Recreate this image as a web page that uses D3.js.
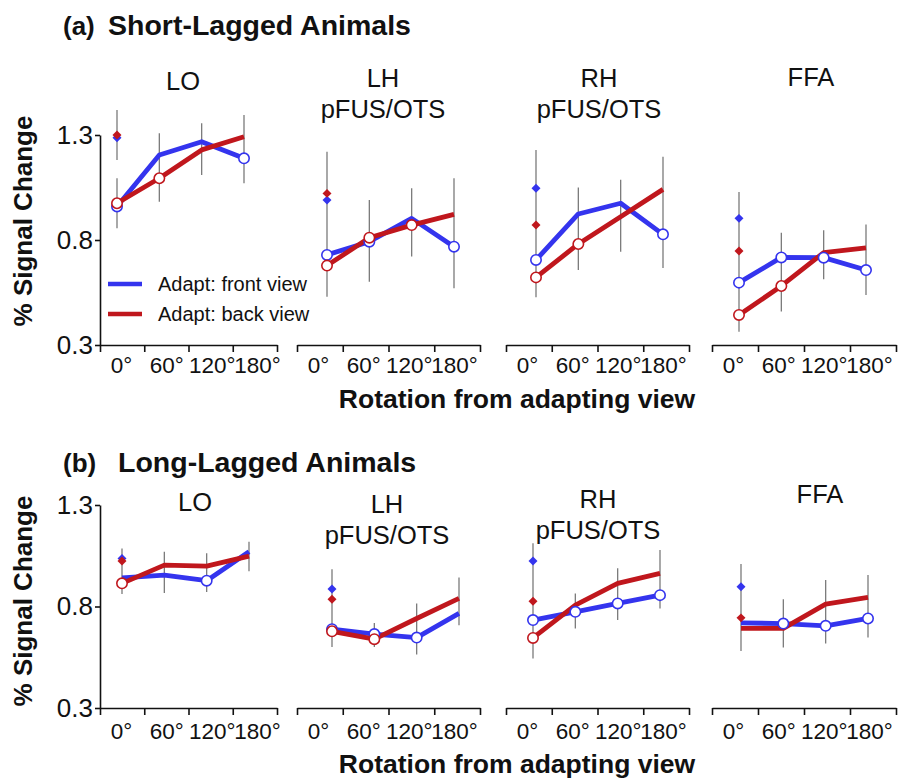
<!DOCTYPE html>
<html>
<head>
<meta charset="utf-8">
<script src="https://cdn.jsdelivr.net/npm/d3@7"></script>
<style>
  body { margin: 0; background: #fff; }
  svg text { font-family: "Liberation Sans", Arial, Helvetica, sans-serif; fill: #111; }
  .domain, .tick line { stroke: #111; stroke-width: 1.6; }
</style>
</head>
<body>
<div id="chart"></div>
<script>
// --- data ---
const angles = [0, 60, 120, 180];
const angleLabels = ["0°", "60°", "120°", "180°"];
const regionTitles = [["LO"], ["LH", "pFUS/OTS"], ["RH", "pFUS/OTS"], ["FFA"]];
const yTicks = [0.3, 0.8, 1.3];

// (a) short-lagged
const shortFront = [[0.960, 1.205, 1.268, 1.189], [0.729, 0.792, 0.903, 0.768], [0.705, 0.924, 0.975, 0.827], [0.597, 0.717, 0.716, 0.657]];
const shortBack  = [[0.975, 1.094, 1.229, 1.292], [0.678, 0.811, 0.871, 0.922], [0.622, 0.781, 0.911, 1.041], [0.443, 0.581, 0.740, 0.763]];
const shortDiamondFront = [1.287, 0.990, 1.046, 0.903];
const shortDiamondBack  = [1.300, 1.022, 0.871, 0.748];
const shortErrLo = [[0.856, 0.982, 1.110, 1.070], [0.530, 0.601, 0.721, 0.570], [0.527, 0.657, 0.744, 0.667], [0.363, 0.459, 0.613, 0.538]];
const shortErrHi = [[1.094, 1.308, 1.356, 1.395], [1.220, 0.990, 1.046, 1.094], [1.229, 1.050, 1.087, 1.197], [1.029, 0.835, 0.846, 0.874]];
const shortDiamondErr = [[1.181, 1.419], null, null, null];
const shortFrontMarks = [[1, 0, 0, 1], [1, 1, 0, 1], [1, 0, 0, 1], [1, 1, 1, 1]];
const shortBackMarks  = [[1, 1, 0, 0], [1, 1, 1, 0], [1, 1, 0, 0], [1, 1, 0, 0]];

// (b) long-lagged
const longFront = [[0.941, 0.955, 0.927, 1.070], [0.688, 0.664, 0.647, 0.766], [0.733, 0.774, 0.815, 0.856], [0.719, 0.716, 0.705, 0.741]];
const longBack  = [[0.914, 1.004, 0.999, 1.048], [0.678, 0.639, 0.741, 0.840], [0.645, 0.807, 0.914, 0.963], [0.692, 0.692, 0.812, 0.845]];
const longDiamondFront = [1.037, 0.886, 1.024, 0.897];
const longDiamondBack  = [1.024, 0.836, 0.826, 0.744];
const longErrLo = [[0.861, 0.867, 0.872, 0.974], [0.601, 0.601, 0.563, 0.708], [0.544, 0.692, 0.733, 0.790], [0.581, 0.598, 0.618, 0.647]];
const longErrHi = [[1.086, 1.070, 1.062, 1.119], [0.983, 0.719, 0.815, 0.943], [1.111, 0.864, 0.988, 1.078], [1.009, 0.836, 0.930, 0.955]];
const longDiamondErr = [null, null, null, null];
const longFrontMarks = [[0, 0, 1, 0], [1, 1, 1, 0], [1, 1, 1, 1], [0, 1, 1, 1]];
const longBackMarks  = [[1, 0, 0, 0], [1, 1, 0, 0], [1, 0, 0, 0], [0, 0, 0, 0]];

// --- layout ---
const W = 907, H = 780;
const FRONT = "#3434ee", BACK = "#c0171d", ERR = "#7a7a7a";
const axisStart = [100, 297, 506, 712];
const axisEnd = [277, 480, 689, 896];

const rows = [
  { tag: "(a)", name: "Short-Lagged Animals", titleY: 35, nameX: 108,
    yTop: 135, yBot: 345, tickY: 373, xTitleY: 408, yLabelY: 221,
    offsets: [17, 30, 30, 27],
    titles: [[183, 90], [383, 87], [599, 87], [811, 86]],
    front: shortFront, back: shortBack, dF: shortDiamondFront, dB: shortDiamondBack,
    lo: shortErrLo, hi: shortErrHi, dErr: shortDiamondErr,
    fMarks: shortFrontMarks, bMarks: shortBackMarks },
  { tag: "(b)", name: "Long-Lagged Animals", titleY: 472, nameX: 118,
    yTop: 505, yBot: 708, tickY: 739, xTitleY: 773, yLabelY: 601,
    offsets: [22, 35, 27, 29],
    titles: [[195, 511], [387, 513], [598, 508], [820, 503]],
    front: longFront, back: longBack, dF: longDiamondFront, dB: longDiamondBack,
    lo: longErrLo, hi: longErrHi, dErr: longDiamondErr,
    fMarks: longFrontMarks, bMarks: longBackMarks }
];

const svg = d3.select("#chart").append("svg")
  .attr("width", W).attr("height", H);

const diamond = d3.symbol().type(d3.symbolSquare).size(40);

rows.forEach(row => {
  // row heading
  svg.append("text").attr("x", 63).attr("y", row.titleY)
    .style("font-size", "26px").style("font-weight", "bold")
    .text(row.tag);
  svg.append("text").attr("x", row.nameX).attr("y", row.titleY)
    .style("font-size", "28.5px").style("font-weight", "bold")
    .text(row.name);

  svg.append("text").attr("x", 517).attr("y", row.xTitleY)
    .attr("text-anchor", "middle")
    .style("font-size", "26.5px").style("font-weight", "bold")
    .text("Rotation from adapting view");

  svg.append("text")
    .attr("transform", `translate(32,${row.yLabelY}) rotate(-90)`)
    .attr("text-anchor", "middle")
    .style("font-size", "26px").style("font-weight", "bold")
    .text("% Signal Change");

  const y = d3.scaleLinear().domain([0.3, 1.3]).range([row.yBot, row.yTop]);

  regionTitles.forEach((lines, p) => {
    const g = svg.append("g");
    const x0 = axisStart[p], x1 = axisEnd[p];
    const x = d3.scaleLinear().domain([0, 180])
      .range([x0 + row.offsets[p], x0 + row.offsets[p] + 127]);
    const xLab = d3.scaleLinear().domain([0, 180]).range([x0 + 21, x0 + 157]);
    const xTick = d3.scaleLinear().domain([0, 4]).range([x0, x1]);

    // x axis: tick marks, then degree labels
    g.append("g").attr("transform", `translate(0,${row.yBot})`)
      .call(d3.axisBottom(xTick).tickValues([0, 1, 2, 3, 4]).tickFormat("").tickSize(7).tickSizeOuter(0));
    const lab = g.append("g").attr("transform", `translate(0,${row.tickY})`)
      .call(d3.axisBottom(xLab).tickValues(angles).tickFormat((d, i) => angleLabels[i]).tickSize(0));
    lab.select(".domain").remove();
    lab.selectAll("text").attr("dy", 0).attr("y", 0).style("font-size", "22.5px");

    // y axis on the first panel only
    if (p === 0) {
      const ya = g.append("g").attr("transform", `translate(${x0},0)`)
        .call(d3.axisLeft(y).tickValues(yTicks).tickFormat(d3.format(".1f")).tickSize(5).tickSizeOuter(0));
      ya.selectAll("text").style("font-size", "26px").attr("x", -7);
    }

    // panel title
    lines.forEach((t, k) => {
      g.append("text").attr("x", row.titles[p][0]).attr("y", row.titles[p][1] + k * 31)
        .attr("text-anchor", "middle").style("font-size", "25.5px").text(t);
    });

    // error bars
    angles.forEach((a, i) => {
      g.append("line").attr("x1", x(a)).attr("x2", x(a))
        .attr("y1", y(row.lo[p][i])).attr("y2", y(row.hi[p][i]))
        .attr("stroke", ERR).attr("stroke-width", 1.3);
    });
    if (row.dErr[p]) {
      g.append("line").attr("x1", x(0)).attr("x2", x(0))
        .attr("y1", y(row.dErr[p][0])).attr("y2", y(row.dErr[p][1]))
        .attr("stroke", ERR).attr("stroke-width", 1.3);
    }

    const line = d3.line().x((d, i) => x(angles[i])).y(d => y(d));
    const series = [
      { vals: row.front[p], marks: row.fMarks[p], dia: row.dF[p], color: FRONT },
      { vals: row.back[p], marks: row.bMarks[p], dia: row.dB[p], color: BACK }
    ];

    series.forEach(s => {
      g.append("path").datum(s.vals).attr("d", line)
        .attr("fill", "none").attr("stroke", s.color)
        .attr("stroke-width", 4.8).attr("stroke-linejoin", "round");
    });
    series.forEach(s => {
      g.selectAll(null).data(s.vals.map((v, i) => ({ v, i })).filter(d => s.marks[d.i]))
        .join("circle")
        .attr("cx", d => x(angles[d.i])).attr("cy", d => y(d.v)).attr("r", 5.2)
        .attr("fill", "#fff").attr("stroke", s.color).attr("stroke-width", 1.6);
    });
    // diamonds: response to the adapting view itself
    series.forEach(s => {
      g.append("path").attr("d", diamond)
        .attr("transform", `translate(${x(0)},${y(s.dia)}) rotate(45)`)
        .attr("fill", s.color);
    });
  });
});

// legend inside the first top panel
const legend = svg.append("g");
[["Adapt: front view", FRONT, 284], ["Adapt: back view", BACK, 314]].forEach(([t, c, ly]) => {
  legend.append("line").attr("x1", 108).attr("x2", 142).attr("y1", ly).attr("y2", ly)
    .attr("stroke", c).attr("stroke-width", 4.5);
  legend.append("text").attr("x", 158).attr("y", ly + 7)
    .style("font-size", "20px").text(t);
});
</script>
</body>
</html>
